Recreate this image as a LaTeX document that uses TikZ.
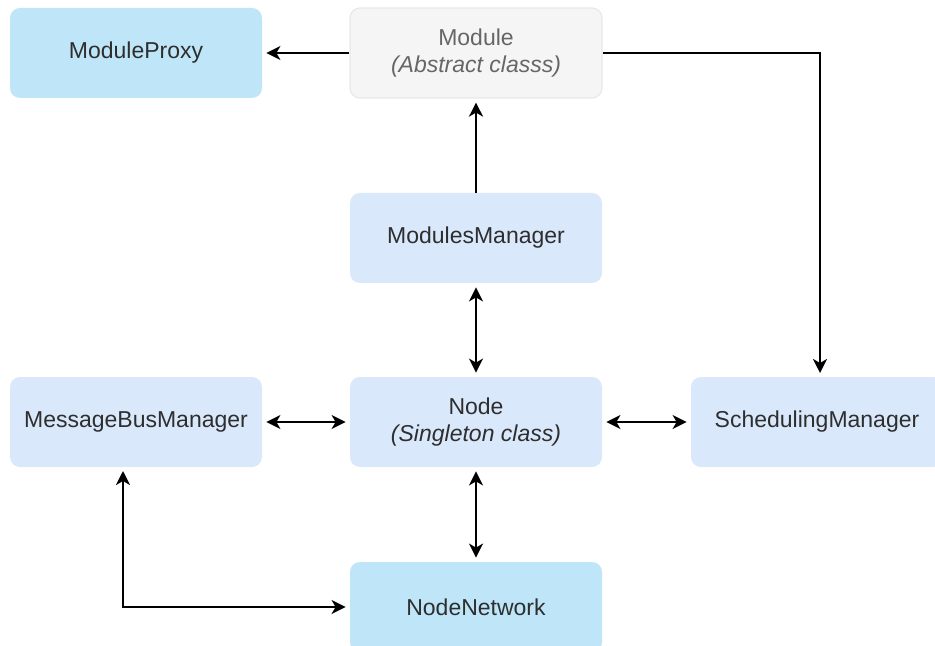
\documentclass[tikz,border=0pt]{standalone}
\usepackage{fontspec}
\setmainfont{Liberation Sans}
\usetikzlibrary{arrows.meta}
\definecolor{cyanfill}{HTML}{BFE6F8}
\definecolor{bluefill}{HTML}{DAE8FC}
\definecolor{grayfill}{HTML}{F5F5F5}
\definecolor{graydraw}{HTML}{E8E8E8}
\definecolor{txt}{HTML}{2E2E2E}
\definecolor{txtgray}{HTML}{666666}
\tikzset{
  box/.style={rounded corners=5pt, minimum width=126pt, minimum height=45pt,
    align=center, text=txt, font=\fontsize{11.5}{13.5}\selectfont, inner sep=0pt},
  bluebox/.style={box, fill=bluefill},
  cyanbox/.style={box, fill=cyanfill},
  graybox/.style={box, fill=grayfill, draw=graydraw, line width=0.6pt, text=txtgray},
  tip/.tip={Stealth[length=7pt,width=7pt,inset=2pt]},
  arr/.style={-tip, line width=1.1pt, black, shorten >=2pt},
  arrb/.style={tip-tip, line width=1.1pt, black, shorten >=2pt, shorten <=2pt}
}
\begin{document}
\begin{tikzpicture}[x=0.5pt,y=-0.5pt]
\useasboundingbox (0,0) rectangle (935,646);
\fill[white] (0,0) rectangle (935,646);
\node[cyanbox] (mp) at (136,53) {ModuleProxy};
\node[graybox] (mod) at (476,53) {Module\\\textit{(Abstract classs)}};
\node[bluebox] (mm) at (476,238) {ModulesManager};
\node[bluebox] (mbm) at (136,422) {MessageBusManager};
\node[bluebox] (nd) at (476,422) {Node\\\textit{(Singleton class)}};
\node[bluebox] (sm) at (817,422) {SchedulingManager};
\node[cyanbox] (nn) at (476,607) {NodeNetwork};
\coordinate (mbmb) at (123,467);
\coordinate (bend) at (820,53);
\coordinate (smtop) at (820,377);
\draw[arr] (mod.west) -- (mp.east);
\draw[arr] (mod.east) -- (bend) -- (smtop);
\draw[arr] (mm.north) -- (mod.south);
\draw[arrb] (mm.south) -- (nd.north);
\draw[arrb] (mbm.east) -- (nd.west);
\draw[arrb] (nd.east) -- (sm.west);
\draw[arrb] (nd.south) -- (nn.north);
\draw[arrb] (mbmb) |- (nn.west);
\end{tikzpicture}
\end{document}
